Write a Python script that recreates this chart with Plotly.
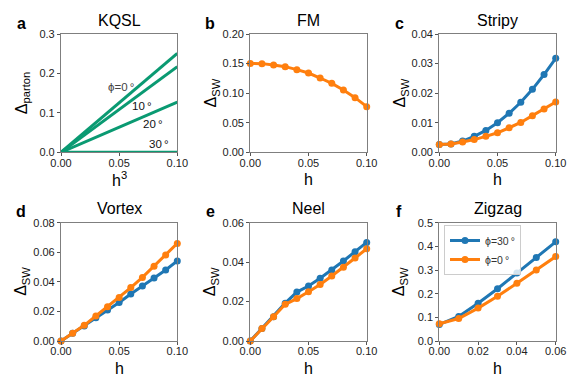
import plotly.graph_objects as go

# ---------------- data ----------------
h11 = [0.00, 0.01, 0.02, 0.03, 0.04, 0.05, 0.06, 0.07, 0.08, 0.09, 0.10]
h7 = [0.00, 0.01, 0.02, 0.03, 0.04, 0.05, 0.06]

kqsl_h3 = [0.0, 0.1]
kqsl_phi0 = [0.0, 0.251]
kqsl_phi10 = [0.0, 0.217]
kqsl_phi20 = [0.0, 0.127]
kqsl_phi30 = [0.0, 0.0]
kqsl_labels = ["ϕ=0\u2009°", "10\u2009°", "20\u2009°", "30\u2009°"]
kqsl_label_x = [0.0513, 0.0694, 0.0794, 0.0845]
kqsl_label_y = [0.165, 0.117, 0.072, 0.021]

fm_phi0 = [0.150, 0.1499, 0.1476, 0.1448, 0.1397, 0.134, 0.1256, 0.1166, 0.1054, 0.0924, 0.0772]

stripy_phi30 = [0.0026, 0.0028, 0.0038, 0.0054, 0.0074, 0.0100, 0.0132, 0.0169, 0.0213, 0.0263, 0.0318]
stripy_phi0 = [0.0026, 0.0028, 0.0035, 0.0043, 0.0054, 0.0066, 0.0083, 0.0101, 0.0124, 0.0146, 0.0170]

vortex_phi30 = [0.0, 0.0052, 0.0101, 0.0158, 0.0210, 0.0261, 0.0318, 0.0372, 0.0426, 0.0480, 0.0541]
vortex_phi0 = [0.0, 0.0052, 0.0106, 0.0169, 0.0232, 0.0295, 0.0361, 0.0430, 0.0505, 0.0581, 0.0660]

neel_phi30 = [0.0, 0.0064, 0.0123, 0.0192, 0.0248, 0.0279, 0.0318, 0.0360, 0.0406, 0.0453, 0.0500]
neel_phi0 = [0.0, 0.0064, 0.0123, 0.0186, 0.0215, 0.0250, 0.0287, 0.0330, 0.0374, 0.0421, 0.0468]

zigzag_phi30 = [0.070, 0.1036, 0.1597, 0.221, 0.287, 0.353, 0.419]
zigzag_phi0 = [0.073, 0.095, 0.139, 0.189, 0.244, 0.300, 0.357]

panel_letters = ["a", "b", "c", "d", "e", "f"]
panel_titles = ["KQSL", "FM", "Stripy", "Vortex", "Neel", "Zigzag"]
y_titles = ["Δ<sub>parton</sub>", "Δ<sub>SW</sub>", "Δ<sub>SW</sub>", "Δ<sub>SW</sub>", "Δ<sub>SW</sub>", "Δ<sub>SW</sub>"]
x_titles = ["h<sup>3</sup>", "h", "h", "h", "h", "h"]
y_ranges = [[0, 0.3], [0, 0.2], [0, 0.04], [0, 0.08], [0, 0.06], [0, 0.5]]
y_dticks = [0.1, 0.05, 0.01, 0.02, 0.02, 0.1]
y_formats = [".1f", ".2f", ".2f", ".2f", ".2f", ".1f"]
x_ranges = [[0, 0.1], [0, 0.1], [0, 0.1], [0, 0.1], [0, 0.1], [0, 0.06]]
x_dticks = [0.05, 0.05, 0.05, 0.05, 0.05, 0.02]
legend_names = ["ϕ=30\u2009°", "ϕ=0\u2009°"]

# ---------------- style ----------------
W, H = 581, 388
BLUE = "#1f77b4"
ORANGE = "#ff7f0e"
GREEN = "#0a9a72"
FONT = "Liberation Sans, Arial, Helvetica, sans-serif"

px_x = [(61, 177.3), (250.3, 366.7), (439.3, 555.7)]
px_y = [(34, 152.3), (222.7, 341)]

fig = go.Figure()

def dom(i):
    r, c = divmod(i, 3)
    x0, x1 = px_x[c]
    y0, y1 = px_y[r]
    return [x0 / W, x1 / W], [1 - y1 / H, 1 - y0 / H]

for i in range(6):
    xd, yd = dom(i)
    sx = "" if i == 0 else str(i + 1)
    common = dict(showgrid=False, zeroline=False, showline=True, mirror=True, automargin=False,
                  linecolor="#7f7f7f", linewidth=1.2, ticks="outside", ticklen=3,
                  tickcolor="#555", tickwidth=1,
                  tickfont=dict(family=FONT, size=11, color="#222"))
    fig.update_layout(**{
        "xaxis" + sx: dict(domain=xd, range=x_ranges[i], dtick=x_dticks[i], tick0=0,
                           tickformat=".2f", anchor="y" + sx, ticklabelstandoff=-3, **common),
        "yaxis" + sx: dict(domain=yd, range=y_ranges[i], dtick=y_dticks[i], tick0=0,
                           tickformat=y_formats[i], anchor="x" + sx, **common),
    })
    cx = (px_x[i % 3][0] + px_x[i % 3][1]) / 2
    # panel letter
    fig.add_annotation(xref="paper", yref="paper", x=(px_x[i % 3][0] - 40) / W,
                       y=1 - (px_y[i // 3][0] - 11) / H, text="<b>" + panel_letters[i] + "</b>",
                       showarrow=False, font=dict(family=FONT, size=16, color="black"),
                       xanchor="center", yanchor="middle")
    # title
    fig.add_annotation(xref="paper", yref="paper", x=cx / W,
                       y=1 - (px_y[i // 3][0] - 14) / H, text=panel_titles[i],
                       showarrow=False, font=dict(family=FONT, size=16, color="black"),
                       xanchor="center", yanchor="middle")
    # x title
    fig.add_annotation(xref="paper", yref="paper", x=cx / W,
                       y=1 - (px_y[i // 3][1] + 27) / H, text=x_titles[i],
                       showarrow=False, font=dict(family=FONT, size=16, color="black"),
                       xanchor="center", yanchor="middle")
    # y title
    fig.add_annotation(xref="paper", yref="paper", x=(px_x[i % 3][0] - 39) / W,
                       y=1 - (px_y[i // 3][0] + px_y[i // 3][1]) / 2 / H, text=y_titles[i],
                       showarrow=False, textangle=-90, font=dict(family=FONT, size=16, color="black"),
                       xanchor="center", yanchor="middle")

line_w = 3
mk = dict(size=7)

# a: KQSL
for ys in [kqsl_phi0, kqsl_phi10, kqsl_phi20, kqsl_phi30]:
    fig.add_trace(go.Scatter(x=kqsl_h3, y=ys, mode="lines", line=dict(color=GREEN, width=line_w),
                             showlegend=False, xaxis="x", yaxis="y", cliponaxis=False))
for k, t in enumerate(kqsl_labels):
    fig.add_annotation(xref="x", yref="y", x=kqsl_label_x[k], y=kqsl_label_y[k], text=t,
                       showarrow=False, font=dict(family=FONT, size=11.5, color="#444" if k == 0 else "#111"))

def pair(ax, xs, y30, y0):
    s = "" if ax == 1 else str(ax)
    fig.add_trace(go.Scatter(x=xs, y=y30, mode="lines+markers", line=dict(color=BLUE, width=line_w),
                             marker=dict(color=BLUE, **mk), showlegend=False,
                             xaxis="x" + s, yaxis="y" + s, cliponaxis=False))
    fig.add_trace(go.Scatter(x=xs, y=y0, mode="lines+markers", line=dict(color=ORANGE, width=line_w),
                             marker=dict(color=ORANGE, **mk), showlegend=False,
                             xaxis="x" + s, yaxis="y" + s, cliponaxis=False))

# b: FM
fig.add_trace(go.Scatter(x=h11, y=fm_phi0, mode="lines+markers", line=dict(color=ORANGE, width=line_w),
                         marker=dict(color=ORANGE, **mk), showlegend=False, xaxis="x2", yaxis="y2",
                         cliponaxis=False))
pair(3, h11, stripy_phi30, stripy_phi0)
pair(4, h11, vortex_phi30, vortex_phi0)
pair(5, h11, neel_phi30, neel_phi0)

# f: Zigzag with legend
fig.add_trace(go.Scatter(x=h7, y=zigzag_phi30, mode="lines+markers", name=legend_names[0],
                         line=dict(color=BLUE, width=line_w), marker=dict(color=BLUE, **mk),
                         xaxis="x6", yaxis="y6", cliponaxis=False))
fig.add_trace(go.Scatter(x=h7, y=zigzag_phi0, mode="lines+markers", name=legend_names[1],
                         line=dict(color=ORANGE, width=line_w), marker=dict(color=ORANGE, **mk),
                         xaxis="x6", yaxis="y6", cliponaxis=False))

fig.update_layout(
    width=W, height=H, margin=dict(l=0, r=0, t=0, b=0, pad=0, autoexpand=False),
    paper_bgcolor="white", plot_bgcolor="white",
    font=dict(family=FONT, color="black"),
    showlegend=True,
    legend=dict(x=444 / W, y=1 - 225 / H, xanchor="left", yanchor="top",
                bgcolor="rgba(255,255,255,0.8)", bordercolor="#cccccc", borderwidth=1,
                font=dict(family=FONT, size=10.5, color="#333"),
                itemwidth=30, tracegroupgap=0),
)

fig.write_html("out.html", config={"displayModeBar": False},
               post_script="document.body.style.margin='0';document.body.style.padding='0';")
